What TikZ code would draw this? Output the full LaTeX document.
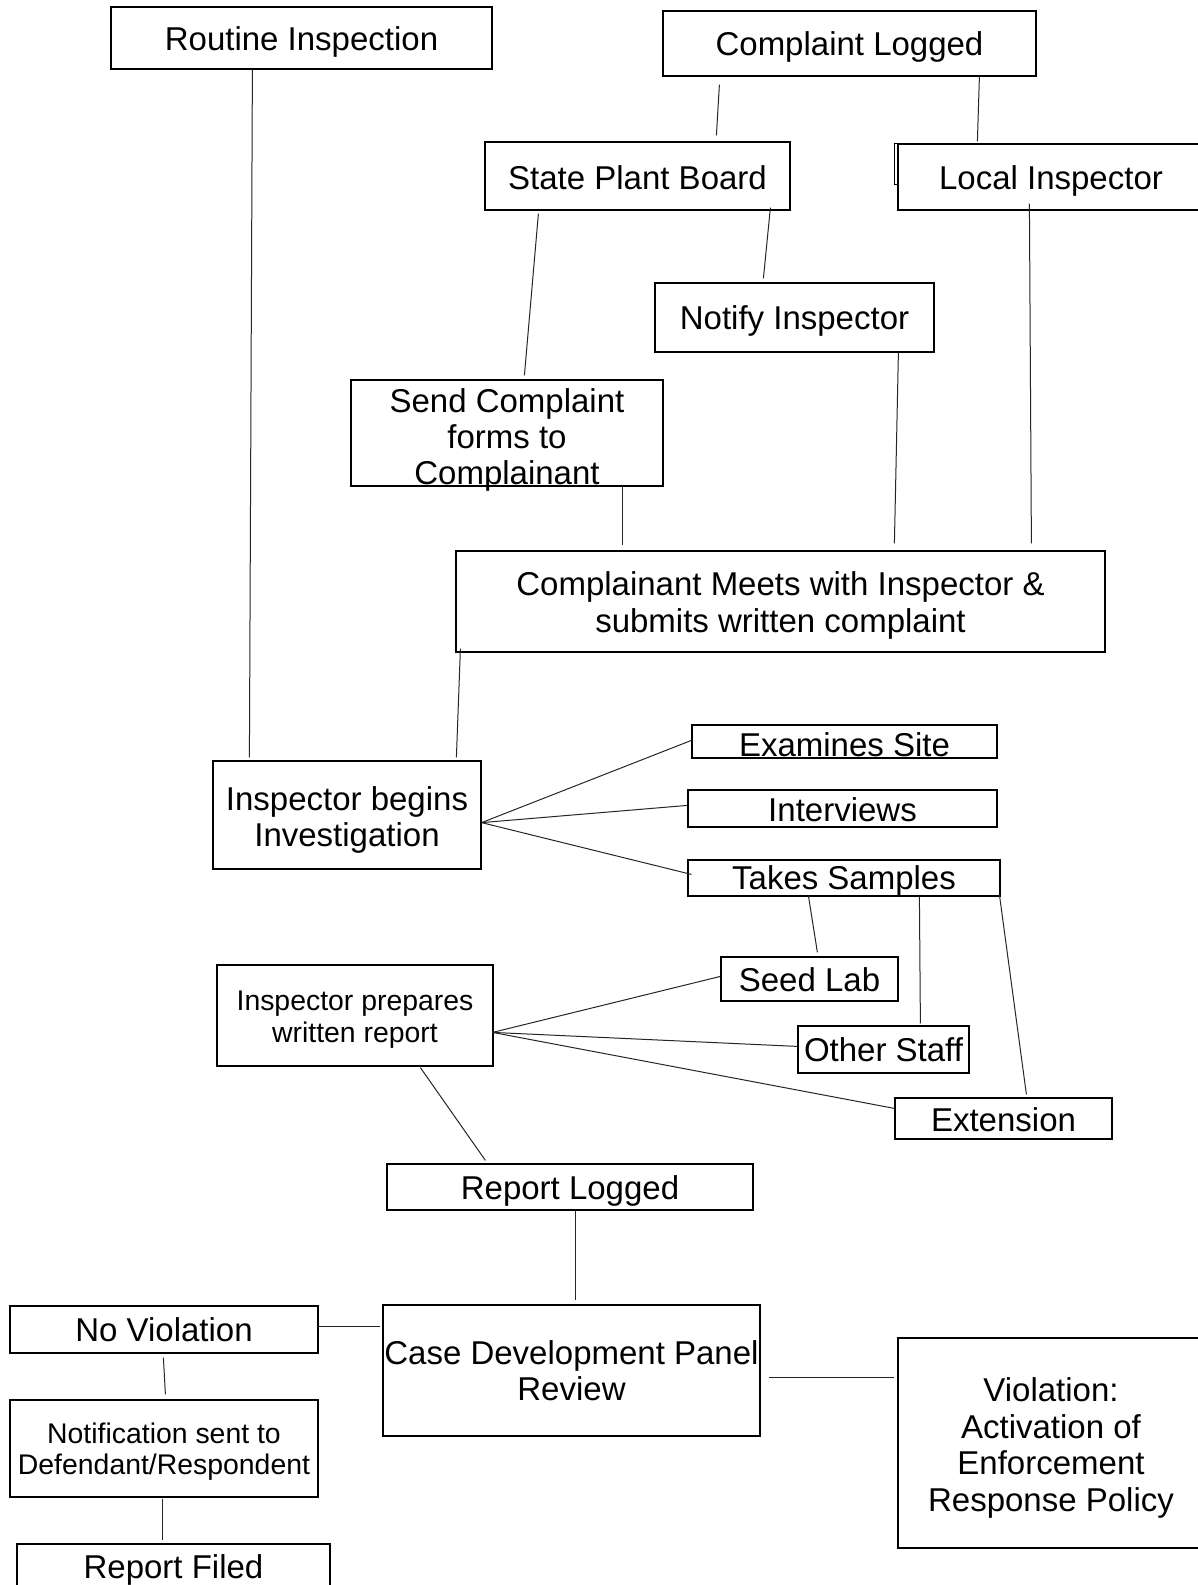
\documentclass[tikz,border=0pt]{standalone}
\usepackage{fontspec}
\setmainfont{Liberation Sans}
\usetikzlibrary{calc}
\tikzset{
  bxshape/.style={draw=black, line width=0.6pt, inner sep=0pt},
  txt/.style={inner sep=0pt, align=center, font=\fontsize{16.5}{18.2}\selectfont},
  smalltext/.style={font=\fontsize{14.2}{15.7}\selectfont},
  conn/.style={draw=black!85, line width=0.5pt},
}
% #1 text options, #2 name, #3-#6 x1 y1 x2 y2, #7 text shift down, #8 text
\newcommand\mybox[8][]{%
  \node[bxshape,minimum width={(#5-#3)*0.5pt},minimum height={(#6-#4)*0.5pt}] (#2) at ({(#3+#5)/2},{(#4+#6)/2}) {};
  \node[txt,#1] (#2-t) at ($(#2.center)+(0,#7)$) {#8};}
\begin{document}
\begin{tikzpicture}[x=0.5pt,y=-0.5pt]
\useasboundingbox (0,0) rectangle (1198,1585);
\clip (0,0) rectangle (1198,1585);
\fill[white] (0,0) rectangle (1198,1585);
% boxes
\mybox{routine}{111}{7}{492}{69}{4}{Routine Inspection}
\mybox{complaint}{663}{11}{1036}{76}{3}{Complaint Logged}
\mybox{spb}{485}{142}{790}{210}{2}{State Plant Board}
\mybox{local}{898}{144}{1204}{210}{4}{Local Inspector}
\mybox{notify}{655}{283}{934}{352}{3}{Notify Inspector}
\mybox{send}{351}{380}{663}{486}{7}{Send Complaint\\forms to\\Complainant}
\mybox{meets}{456}{551}{1105}{652}{4}{Complainant Meets with Inspector \&\\submits written complaint}
\mybox{begins}{213}{761}{481}{869}{5}{Inspector begins\\Investigation}
\mybox{examines}{692}{725}{997}{758}{3}{Examines Site}
\mybox{interviews}{688}{790}{997}{827}{1}{Interviews}
\mybox{takes}{688}{860}{1000}{896}{3}{Takes Samples}
\mybox{seed}{721}{957}{898}{1001}{1}{Seed Lab}
\mybox{other}{798}{1026}{969}{1073}{0}{Other Staff}
\mybox{ext}{895}{1098}{1112}{1139}{1}{Extension}
\mybox[smalltext]{prepares}{217}{965}{493}{1066}{4}{Inspector prepares\\written report}
\mybox{logged}{387}{1164}{753}{1210}{4}{Report Logged}
\mybox{case}{383}{1305}{760}{1436}{0}{Case Development Panel\\Review}
\mybox{noviol}{10}{1306}{318}{1353}{0}{No Violation}
\mybox[smalltext]{notif}{10}{1400}{318}{1497}{3}{Notification sent to\\Defendant/Respondent}
\mybox{filed}{17}{1544}{330}{1591}{2}{Report Filed}
\mybox{violation}{898}{1338}{1204}{1548}{5}{Violation:\\Activation of\\Enforcement\\Response Policy}
% small bracket behind Local Inspector
\draw[line width=0.6pt] (local.north west) -- ++(-3,0) -- ++(0,41) -- ++(3,0);
% connectors
\draw[conn] ($(routine.south west)+(142,0)$) -- ($(begins.north west)+(37,-3)$);
\draw[conn] ($(complaint.south west)+(57,8)$) -- ($(spb.north west)+(232,-6)$);
\draw[conn] ($(complaint.south west)+(317,0)$) -- ($(local.north west)+(80,-2)$);
\draw[conn] ($(spb.south west)+(54,3)$) -- ($(send.north west)+(174,-4)$);
\draw[conn] ($(spb.south west)+(286,-3)$) -- ($(notify.north west)+(109,-4)$);
\draw[conn] ($(local.south west)+(132,-7)$) -- ($(meets.north west)+(576,-7)$);
\draw[conn] ($(notify.south west)+(244,0)$) -- ($(meets.north west)+(439,-7)$);
\draw[conn] ($(send.south west)+(272,0)$) -- ($(meets.north west)+(167,-5)$);
\draw[conn] ($(meets.south west)+(5,-4)$) -- ($(begins.north west)+(244,-3)$);
\draw[conn] ($(begins.south east)+(0,-47)$) -- ($(examines.north west)+(0,16)$);
\draw[conn] ($(begins.south east)+(0,-47)$) -- ($(interviews.north west)+(0,16)$);
\draw[conn] ($(begins.south east)+(0,-47)$) -- ($(takes.north west)+(4,15)$);
\draw[conn] ($(takes.south west)+(121,-1)$) -- ($(seed.north west)+(97,-4)$);
\draw[conn] ($(takes.south west)+(232,0)$) -- ($(other.north west)+(123,-2)$);
\draw[conn] ($(takes.south west)+(312,-2)$) -- ($(ext.north west)+(132,-3)$);
\draw[conn] ($(prepares.north east)+(-1,68)$) -- ($(seed.north west)+(0,20)$);
\draw[conn] ($(prepares.north east)+(-1,68)$) -- ($(other.north west)+(0,21)$);
\draw[conn] ($(prepares.north east)+(-1,68)$) -- ($(ext.north west)+(0,11)$);
\draw[conn] ($(prepares.south west)+(204,1)$) -- ($(logged.north west)+(99,-3)$);
\draw[conn] ($(logged.south west)+(189,0)$) -- ($(case.north west)+(193,-4)$);
\draw[conn] ($(case.north west)+(-2,22)$) -- ($(noviol.north east)+(0,21)$);
\draw[conn] ($(case.north east)+(8,73)$) -- ($(violation.north west)+(-3,40)$);
\draw[conn] ($(noviol.south west)+(154,4)$) -- ($(notif.north west)+(156,-5)$);
\draw[conn] ($(notif.south west)+(153,1)$) -- ($(filed.north west)+(146,-3)$);
\end{tikzpicture}
\end{document}
